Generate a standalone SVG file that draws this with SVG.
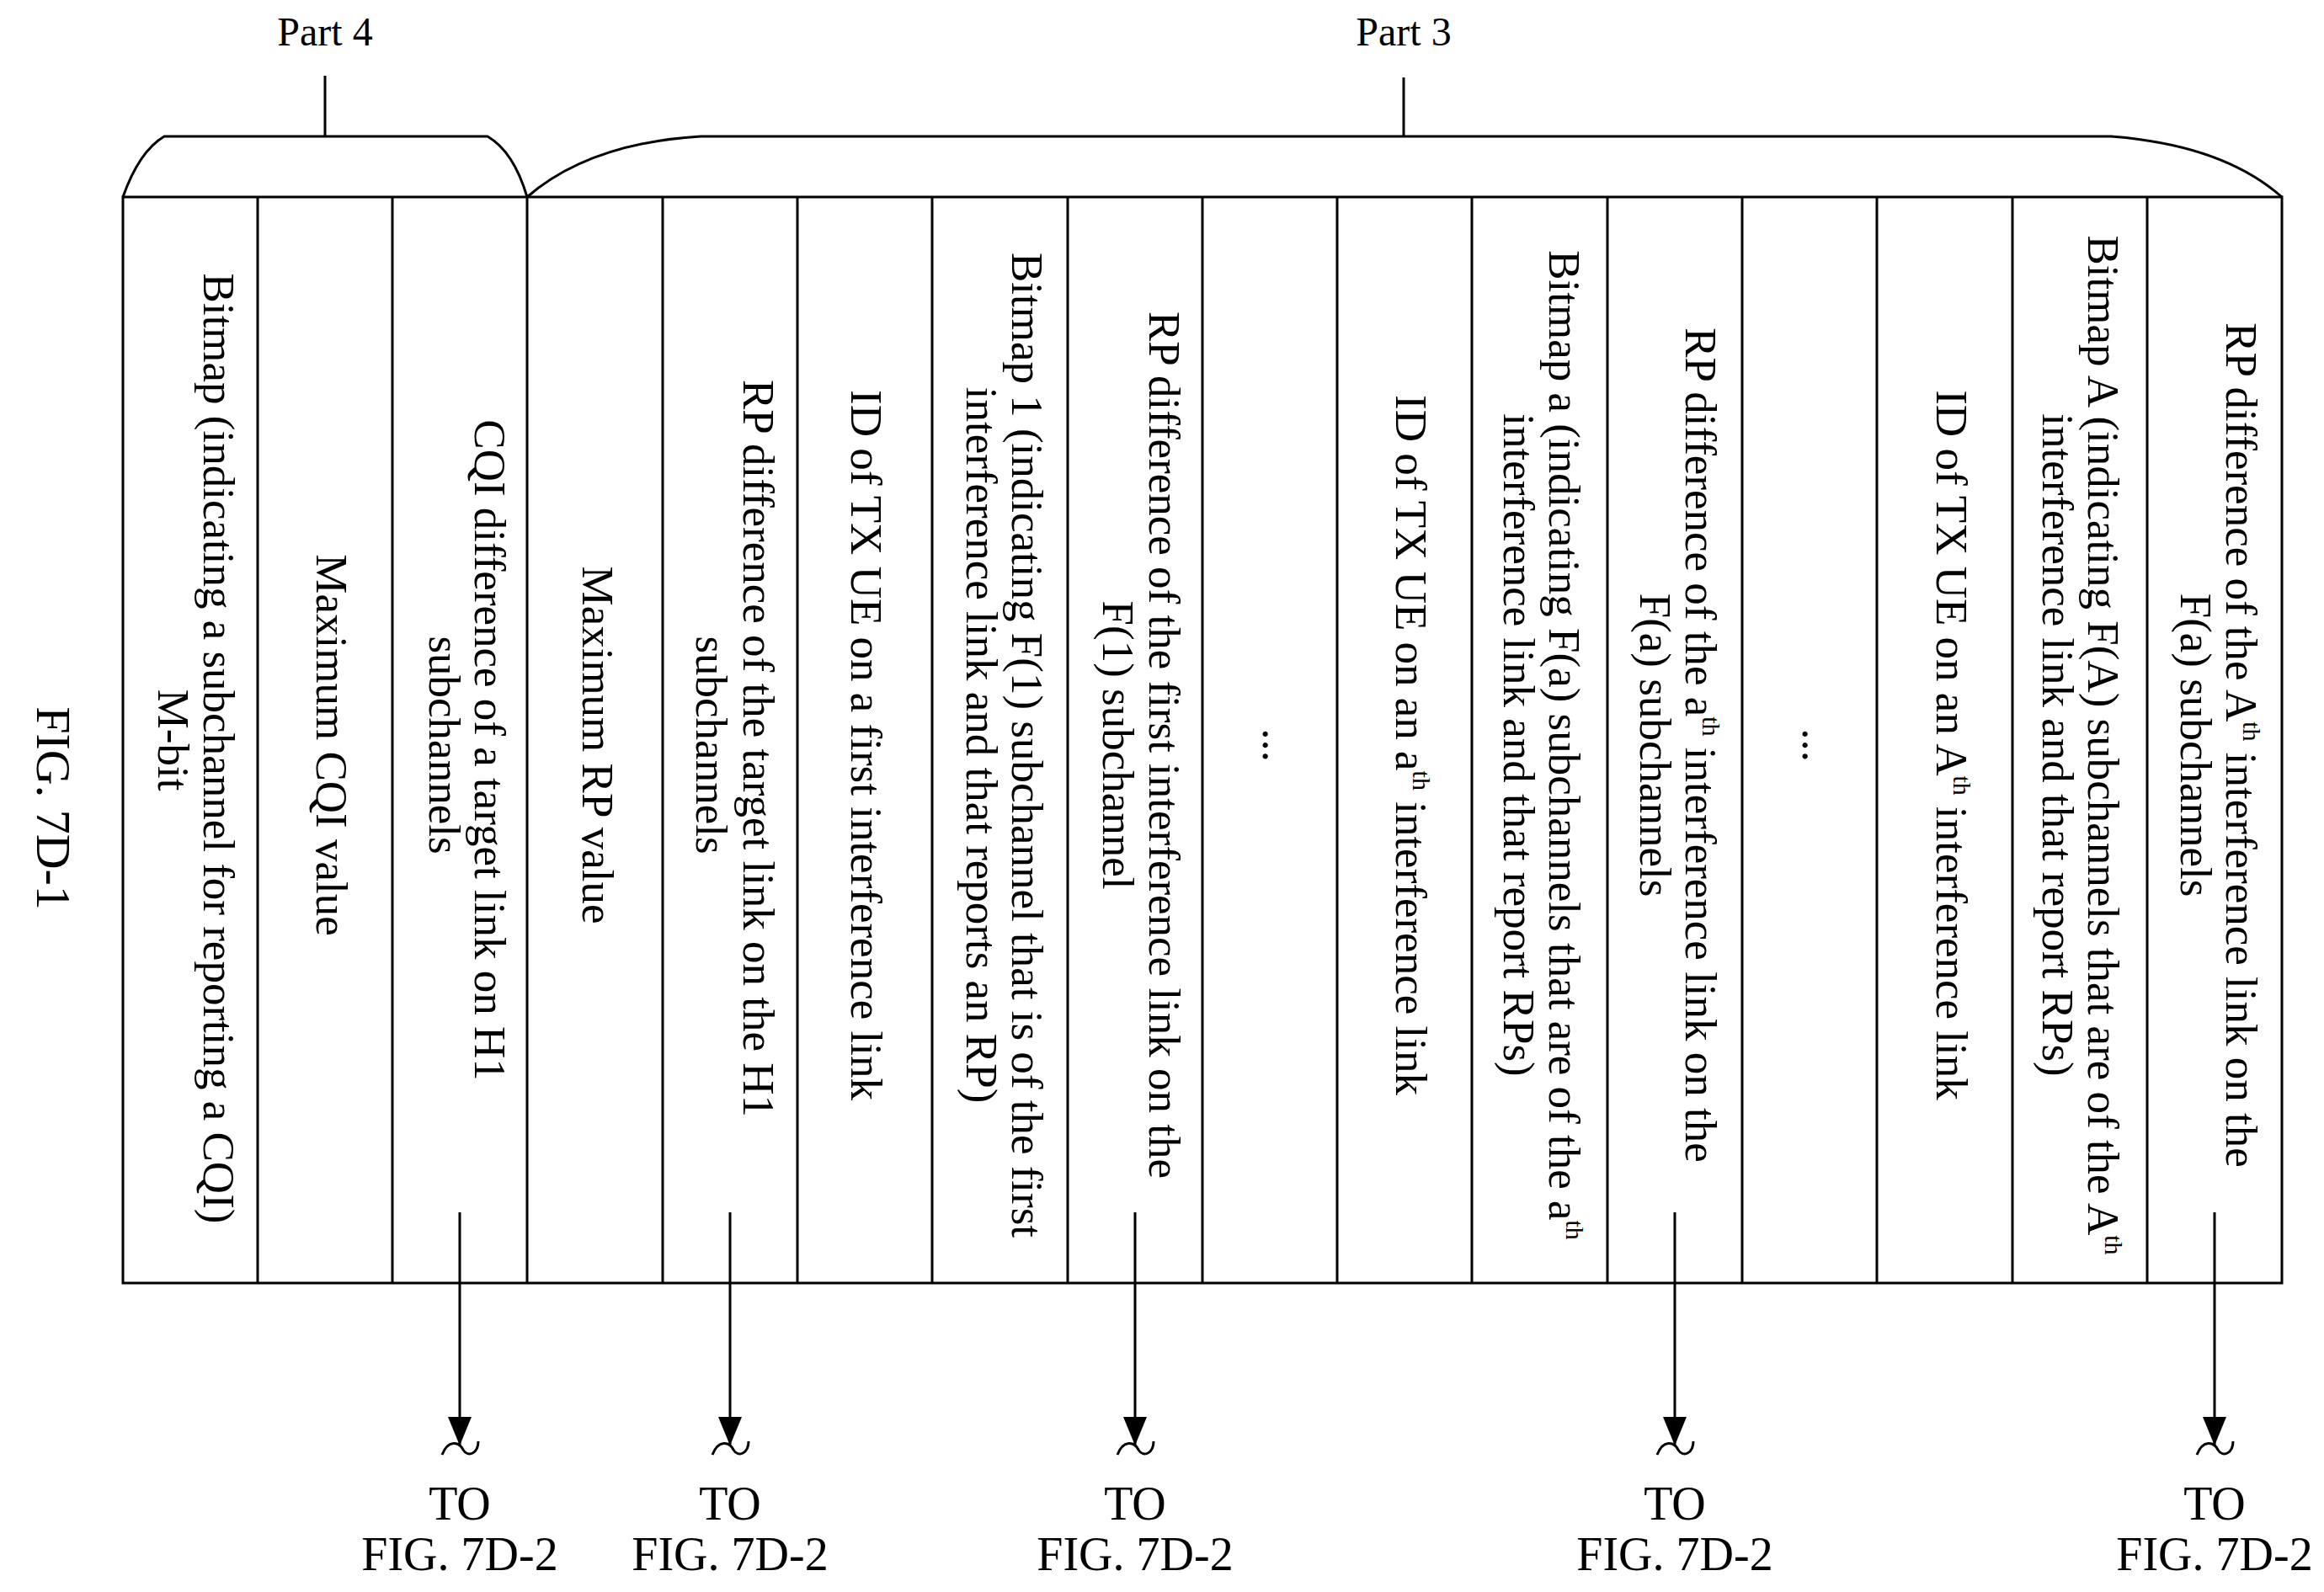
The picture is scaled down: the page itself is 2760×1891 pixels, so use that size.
<svg xmlns="http://www.w3.org/2000/svg" width="2760" height="1891" viewBox="0 0 2760 1891">
<defs>
<style>
.ln{stroke:#000;stroke-width:3;fill:none}
.t{font-family:"Liberation Serif","Times New Roman",serif;font-size:53px;fill:#000}
.c{text-anchor:middle}
.sup{font-size:30px}
.lbl{font-family:"Liberation Serif","Times New Roman",serif;font-size:56px;fill:#000;text-anchor:middle}
.part{font-family:"Liberation Serif","Times New Roman",serif;font-size:48px;fill:#000;text-anchor:middle}
</style>
<marker id="ah" markerWidth="36" markerHeight="28" refX="34" refY="14" orient="auto" markerUnits="userSpaceOnUse">
<path d="M0,0 L34,14 L0,28 Z" fill="#000"/>
</marker>
</defs>
<rect width="2760" height="1891" fill="#fff"/>
<g id="brackets">
<text class="part" x="386" y="54">Part 4</text>
<line class="ln" x1="386" y1="90" x2="386" y2="162"/>
<path class="ln" d="M146,234 Q165,180 195,162 L579,162 Q610,180 626,234"/>
<text class="part" x="1667" y="54">Part 3</text>
<line class="ln" x1="1667" y1="92" x2="1667" y2="162"/>
<path class="ln" d="M626,234 Q700,170 832,162 L2507,162 Q2640,172 2710,234"/>
</g>
<g id="table">
<rect class="ln" x="146" y="234" width="2564" height="1290"/>
<path class="ln" d="M306,234V1524M466,234V1524M626,234V1524M787,234V1524M947,234V1524M1107,234V1524M1268,234V1524M1428,234V1524M1588,234V1524M1748,234V1524M1909,234V1524M2069,234V1524M2229,234V1524M2390,234V1524M2550,234V1524"/>
</g>
<g id="col0"><text class="t c" transform="translate(242,889) rotate(90)">Bitmap (indicating a subchannel for reporting a CQI)</text><text class="t c" transform="translate(188,879) rotate(90)">M-bit</text></g>
<g id="col1"><text class="t c" transform="translate(376,885) rotate(90)">Maximum CQI value</text></g>
<g id="col2"><text class="t c" transform="translate(564,891) rotate(90)">CQI difference of a target link on H1</text><text class="t c" transform="translate(510,885) rotate(90)">subchannels</text></g>
<g id="col3"><text class="t c" transform="translate(692,885) rotate(90)">Maximum RP value</text></g>
<g id="col4"><text class="t c" transform="translate(883,889) rotate(90)">RP difference of the target link on the H1</text><text class="t c" transform="translate(827,885) rotate(90)">subchannels</text></g>
<g id="col5"><text class="t c" transform="translate(1011,885) rotate(90)">ID of TX UE on a first interference link</text></g>
<g id="col6"><text class="t c" transform="translate(1202,885) rotate(90)">Bitmap 1 (indicating F(1) subchannel that is of the first</text><text class="t c" transform="translate(1148,885) rotate(90)">interference link and that reports an RP)</text></g>
<g id="col7"><text class="t c" transform="translate(1365,885) rotate(90)">RP difference of the first interference link on the</text><text class="t c" transform="translate(1310,885) rotate(90)">F(1) subchannel</text></g>
<g id="col8"><text class="t c" transform="translate(1500,885) rotate(90)">...</text></g>
<g id="col9"><text class="t c" transform="translate(1658,885) rotate(90)">ID of TX UE on an a<tspan class="sup" dy="-20">th</tspan><tspan dy="20"> interference link</tspan></text></g>
<g id="col10"><text class="t c" transform="translate(1840,885) rotate(90)">Bitmap a (indicating F(a) subchannels that are of the a<tspan class="sup" dy="-20">th</tspan></text><text class="t c" transform="translate(1786,885) rotate(90)">interference link and that report RPs)</text></g>
<g id="col11"><text class="t c" transform="translate(2002,885) rotate(90)">RP difference of the a<tspan class="sup" dy="-20">th</tspan><tspan dy="20"> interference link on the</tspan></text><text class="t c" transform="translate(1948,885) rotate(90)">F(a) subchannels</text></g>
<g id="col12"><text class="t c" transform="translate(2141,885) rotate(90)">...</text></g>
<g id="col13"><text class="t c" transform="translate(2300,885) rotate(90)">ID of TX UE on an A<tspan class="sup" dy="-20">th</tspan><tspan dy="20"> interference link</tspan></text></g>
<g id="col14"><text class="t c" transform="translate(2480,885) rotate(90)">Bitmap A (indicating F(A) subchannels that are of the A<tspan class="sup" dy="-20">th</tspan></text><text class="t c" transform="translate(2426,885) rotate(90)">interference link and that report RPs)</text></g>
<g id="col15"><text class="t c" transform="translate(2644,885) rotate(90)">RP difference of the A<tspan class="sup" dy="-20">th</tspan><tspan dy="20"> interference link on the</tspan></text><text class="t c" transform="translate(2590,885) rotate(90)">F(a) subchannels</text></g>
<g id="figlabel"><text class="t" style="font-size:58px" text-anchor="middle" transform="translate(44,960) rotate(90)">FIG. 7D-1</text></g>
<g id="connectors">
<line class="ln" x1="546" y1="1440" x2="546" y2="1717" marker-end="url(#ah)"/>
<line class="ln" x1="867" y1="1440" x2="867" y2="1717" marker-end="url(#ah)"/>
<line class="ln" x1="1348" y1="1440" x2="1348" y2="1717" marker-end="url(#ah)"/>
<line class="ln" x1="1989" y1="1440" x2="1989" y2="1717" marker-end="url(#ah)"/>
<line class="ln" x1="2630" y1="1440" x2="2630" y2="1717" marker-end="url(#ah)"/>
<path class="ln" d="M525,1728 C532,1710 545,1712 550,1722 C556,1732 568,1726 568,1712"/>
<path class="ln" d="M846,1728 C853,1710 866,1712 871,1722 C877,1732 889,1726 889,1712"/>
<path class="ln" d="M1327,1728 C1334,1710 1347,1712 1352,1722 C1358,1732 1370,1726 1370,1712"/>
<path class="ln" d="M1968,1728 C1975,1710 1988,1712 1993,1722 C1999,1732 2011,1726 2011,1712"/>
<path class="ln" d="M2609,1728 C2616,1710 2629,1712 2634,1722 C2640,1732 2652,1726 2652,1712"/>
</g>
<g id="offpage">
<text class="lbl" x="546" y="1805">TO</text><text class="lbl" x="546" y="1865">FIG. 7D-2</text>
<text class="lbl" x="867" y="1805">TO</text><text class="lbl" x="867" y="1865">FIG. 7D-2</text>
<text class="lbl" x="1348" y="1805">TO</text><text class="lbl" x="1348" y="1865">FIG. 7D-2</text>
<text class="lbl" x="1989" y="1805">TO</text><text class="lbl" x="1989" y="1865">FIG. 7D-2</text>
<text class="lbl" x="2630" y="1805">TO</text><text class="lbl" x="2630" y="1865">FIG. 7D-2</text>
</g>
</svg>
